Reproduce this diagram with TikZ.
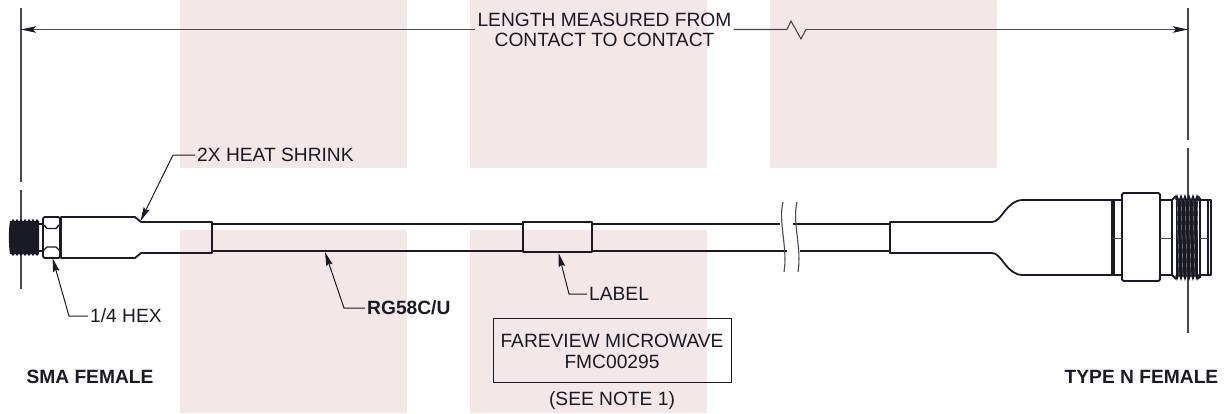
\documentclass[tikz,border=0pt]{standalone}
\usepackage{fontspec}
\setmainfont{Liberation Sans}
\usetikzlibrary{arrows.meta,
  calc,
  positioning
}
\definecolor{bandpink}{HTML}{F4E7E8}
\definecolor{inkdark}{HTML}{1A1A26}
\definecolor{dimgray}{HTML}{484852}
\tikzset{
  band/.style={fill=bandpink,draw=none},
  outline/.style={draw=inkdark,line width=1.8,line join=round},
  thinline/.style={draw=dimgray,line width=0.6},
  extline/.style={draw=dimgray,line width=1.1},
  dimline/.style={draw=dimgray,line width=1.1,-{Stealth[length=15,width=6.5,inset=3,color=inkdark]}},
  leader/.style={draw=inkdark,line width=1,-{Stealth[length=14,width=6.5,inset=2]}},
  txt/.style={font=\fontsize{19.2}{20}\selectfont,text=inkdark,inner sep=2,align=center},
  boldtxt/.style={txt,font=\fontsize{19.2}{20}\selectfont\bfseries}
}

\begin{document}
\begin{tikzpicture}[x=1pt,y=-1pt]
  \useasboundingbox (0, 0) rectangle (1227, 413);

  % bands behind the drawing
  \foreach \xa/\xb in {180/407, 470/707, 770/997} {
    \fill[band] (\xa, 0) rectangle (\xb, 168);
  }
  \foreach \xa/\xb in {180/407, 470/707} {
    \fill[band] (\xa, 230) rectangle (\xb, 413);
  }

  % extension lines
  \draw[extline] (21, 8) -- (21, 182);
  \draw[extline] (21, 190) -- (21, 289);
  \draw[extline] (1188, 8) -- (1188, 140);
  \draw[extline] (1188, 148) -- (1188, 333);

  % overall length
  \node[txt] (lengthtext) at (604.5, 30) {LENGTH MEASURED FROM\\CONTACT TO CONTACT};
  \coordinate (dimleft) at (21, 29.5);
  \coordinate (dimright) at (1188, 29.5);
  \coordinate (zigstart) at (787, 29.5);
  \coordinate (zigend) at (806, 29.5);
  \draw[dimline] (lengthtext.west |- dimleft) -- (dimleft);
  \draw[extline] (lengthtext.east |- dimleft) -- (zigstart) -- (791, 21) -- (801, 39) -- (zigend);
  \draw[dimline] (zigend) -- (dimright);

  % sma thread
  \fill[inkdark] (10, 221) -- (39, 221) -- (39, 254) -- (10, 254)
    .. controls (8.5, 245) and (8.5, 230) .. (10, 221);
  \foreach \tooth in {0, 1, ..., 6} {
    \fill[inkdark] (11 + \tooth * 4, 221.5) -- ++(2, -2.5) -- ++(2, 2.5);
    \fill[inkdark] (11 + \tooth * 4, 253.5) -- ++(2, 2.5) -- ++(2, -2.5);
  }
  \draw[outline] (39, 224) -- (43, 224);
  \draw[outline] (39, 251) -- (43, 251);

  % sma hex
  \draw[outline,rounded corners=2] (43, 217) rectangle (60, 258);
  \draw[outline,line width=1.4] (44, 225) -- (47, 228.5) -- (56, 228.5) -- (59, 225);
  \draw[outline,line width=1.4] (44, 250) -- (47, 247) -- (56, 247) -- (59, 250);

  % left heat shrink
  \draw[outline] (61, 217) -- (135, 217) -- (141, 222) -- (212, 222)
    -- (212, 253) -- (141, 253) -- (135, 258) -- (61, 258) -- cycle;

  % cable
  \draw[outline] (212, 224) -- (523, 224);
  \draw[outline] (212, 251) -- (523, 251);
  \draw[outline] (592, 224) -- (780, 224);
  \draw[outline] (592, 251) -- (787, 251);
  \draw[outline] (793, 224) -- (890, 224);
  \draw[outline] (800, 251) -- (890, 251);
  \draw[outline] (523, 222) rectangle (592, 252);

  % cable break
  \draw[extline] (783, 202) .. controls (778, 222) and (788, 248) .. (784, 272);
  \draw[extline] (797, 202) .. controls (792, 222) and (802, 248) .. (798, 272);

  % right heat shrink
  \draw[outline] (890, 222) -- (992, 222)
    .. controls (1002, 222) and (1006, 200) .. (1023, 200) -- (1112, 200)
    -- (1112, 275) -- (1023, 275)
    .. controls (1006, 275) and (1002, 253) .. (992, 253) -- (890, 253) -- cycle;

  % n type body
  \draw[outline] (1112, 200) -- (1122, 200);
  \draw[outline] (1112, 275) -- (1122, 275);
  \draw[outline,line width=2.4] (1114, 200) -- (1114, 275);
  \draw[outline,rounded corners=1.5] (1122, 193) rectangle (1160, 281);
  \draw[outline] (1160, 200) -- (1172, 200);
  \draw[outline] (1160, 275) -- (1172, 275);
  \draw[outline] (1172, 200) -- (1172, 275);
  \draw[outline] (1198, 200) -- (1211, 200) -- (1211, 275) -- (1198, 275);
  \draw[outline] (1208, 200) -- (1208, 275);
  \draw[outline] (1200, 198) -- (1200, 278);
  \foreach \y in {238} {
    \draw[thinline] (1112, \y) -- (1122, \y);
    \draw[thinline] (1160, \y) -- (1172, \y);
    \draw[thinline] (1200, \y) -- (1208, \y);
  }

  % n type thread
  \fill[inkdark] (1176, 199) -- (1198, 199) -- (1198, 276) -- (1176, 276) -- cycle;
  \foreach \tooth in {0, 1, ..., 5} {
    \fill[inkdark] (1175 + \tooth * 4, 199.5) -- ++(2, -5.5) -- ++(2, 5.5);
    \fill[inkdark] (1175 + \tooth * 4, 275.5) -- ++(2, 5.5) -- ++(2, -5.5);
    \draw[white,line width=0.12] (1177 + \tooth * 4, 200) -- (1179 + \tooth * 4, 275);
  }
  \draw[outline] (1172, 200) -- (1176, 196);
  \draw[outline] (1172, 275) -- (1176, 279);
  \draw[outline] (1198, 196) -- (1200, 199);
  \draw[outline] (1198, 279) -- (1200, 276);

  % callouts
  \node[txt,anchor=west] (shrinktext) at (195, 155) {2X HEAT SHRINK};
  \coordinate (shrinkbend) at (173, 155);
  \coordinate (shrinktip) at (140.5, 221);
  \draw[leader] (shrinktext.west) -- (shrinkbend) -- (shrinktip);

  \node[txt,anchor=west] (hextext) at (88, 316) {1/4 HEX};
  \coordinate (hexbend) at (69, 316);
  \coordinate (hextip) at (52.5, 258);
  \draw[leader] (hextext.west) -- (hexbend) -- (hextip);

  \node[boldtxt,anchor=west] (cabletext) at (365, 308) {RG58C/U};
  \coordinate (cablebend) at (344, 308);
  \coordinate (cabletip) at (325, 252);
  \draw[leader] (cabletext.west) -- (cablebend) -- (cabletip);

  \node[txt,anchor=west] (labeltext) at (587, 294) {LABEL};
  \coordinate (labelbend) at (569, 294);
  \coordinate (labeltip) at (558.5, 253);
  \draw[leader] (labeltext.west) -- (labelbend) -- (labeltip);

  % label contents
  \draw[thinline,line width=0.8,draw=inkdark] (493, 318) rectangle (731, 382);
  \node[txt] (maker) at (612, 351.5) {FAREVIEW MICROWAVE\\[1pt]FMC00295};
  \node[txt] (seenote) at (612, 400.5) {(SEE NOTE 1)};

  % connector names
  \node[boldtxt] (smatext) at (90, 377) {SMA FEMALE};
  \node[boldtxt] (ntypetext) at (1141.5, 377) {TYPE N FEMALE};
\end{tikzpicture}
\end{document}
